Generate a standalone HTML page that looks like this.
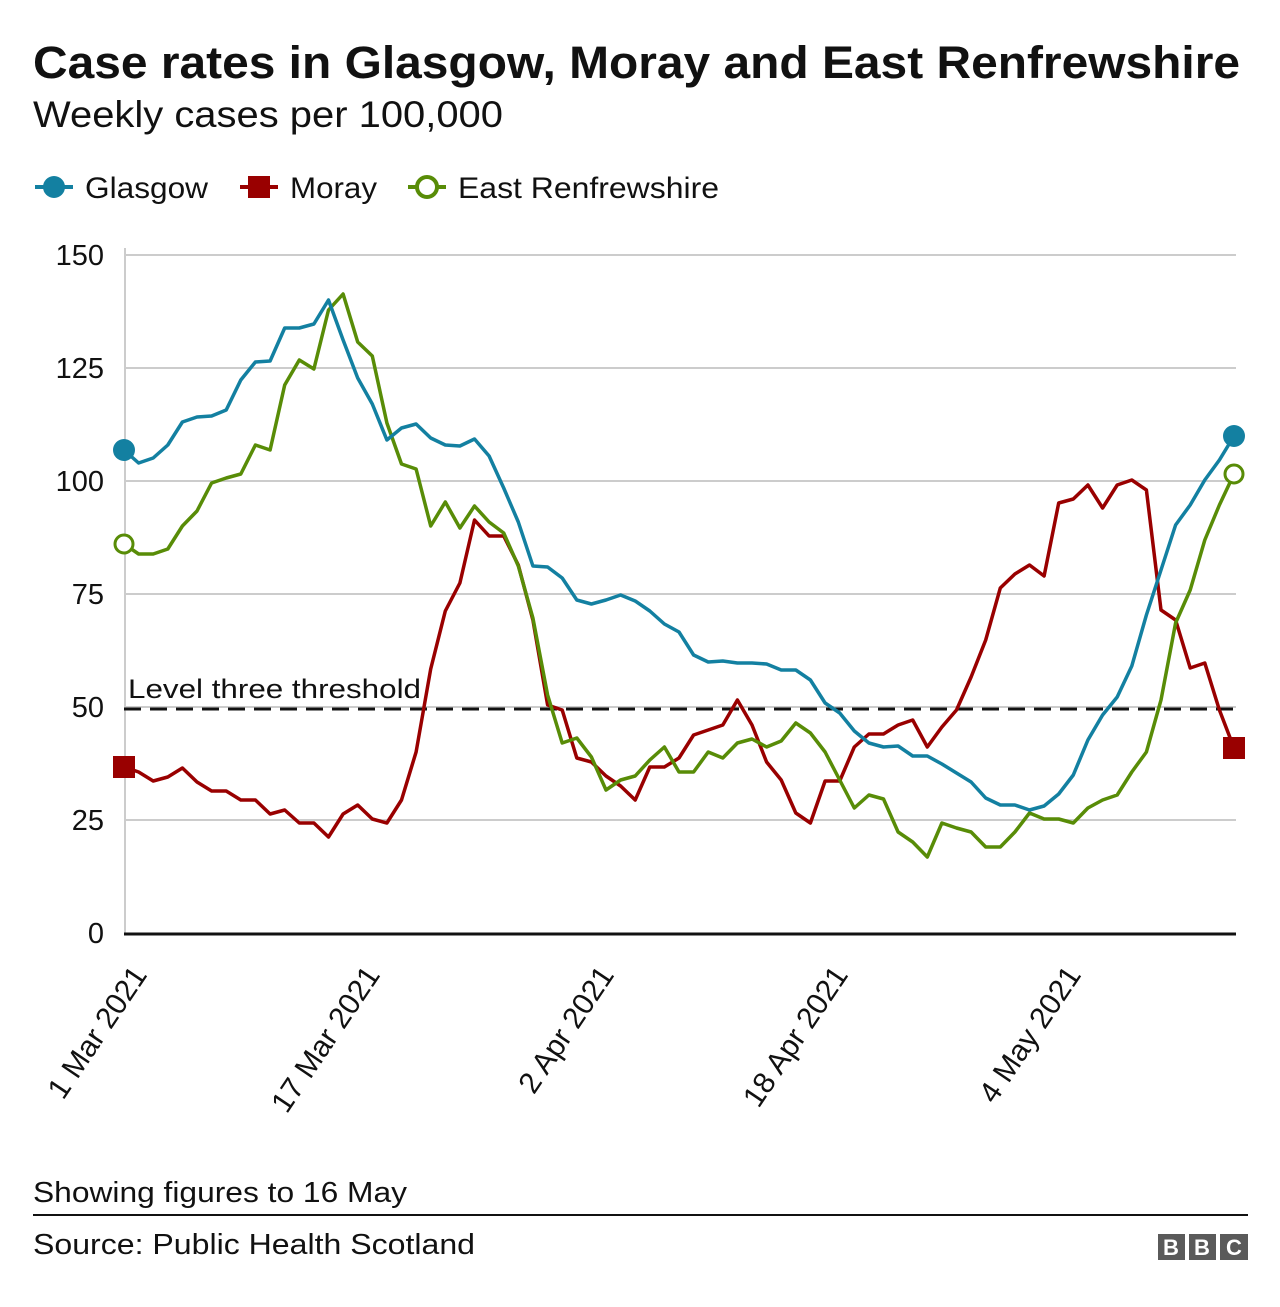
<!DOCTYPE html>
<html><head><meta charset="utf-8"><style>
html,body{margin:0;padding:0;background:#fff;}
body{width:1280px;height:1302px;overflow:hidden;font-family:"Liberation Sans",Arial,sans-serif;}
</style></head><body>
<svg id="s" width="1280" height="1302" xmlns="http://www.w3.org/2000/svg" font-family="Liberation Sans, Arial, sans-serif">
<text x="33" y="78" font-size="45" font-weight="bold" fill="#111" textLength="1207" lengthAdjust="spacingAndGlyphs">Case rates in Glasgow, Moray and East Renfrewshire</text>
<text x="33" y="127" font-size="37" fill="#111" textLength="470" lengthAdjust="spacingAndGlyphs">Weekly cases per 100,000</text>
<line x1="35" y1="187" x2="73" y2="187" stroke="#1380a1" stroke-width="4"/><circle cx="54" cy="187" r="11" fill="#1380a1"/>
<text x="85" y="198" font-size="30" fill="#111" textLength="123" lengthAdjust="spacingAndGlyphs">Glasgow</text>
<line x1="240" y1="187" x2="278" y2="187" stroke="#990000" stroke-width="4"/><rect x="248" y="176" width="22" height="22" fill="#990000"/>
<text x="290" y="198" font-size="30" fill="#111" textLength="87" lengthAdjust="spacingAndGlyphs">Moray</text>
<line x1="408" y1="187" x2="446" y2="187" stroke="#588c07" stroke-width="4"/><circle cx="427" cy="187" r="10" fill="#fff" stroke="#588c07" stroke-width="4"/>
<text x="458" y="198" font-size="30" fill="#111" textLength="261" lengthAdjust="spacingAndGlyphs">East Renfrewshire</text>
<g stroke="#ccc" stroke-width="2">
<line x1="124" y1="255" x2="1236" y2="255"/><line x1="124" y1="368" x2="1236" y2="368"/><line x1="124" y1="481" x2="1236" y2="481"/><line x1="124" y1="594" x2="1236" y2="594"/><line x1="124" y1="707" x2="1236" y2="707"/><line x1="124" y1="820" x2="1236" y2="820"/>
<line x1="125" y1="248" x2="125" y2="933"/>
</g>
<g font-size="29" fill="#111" text-anchor="end">
<text x="104" y="265">150</text><text x="104" y="378">125</text><text x="104" y="491">100</text><text x="104" y="604">75</text><text x="104" y="717">50</text><text x="104" y="830">25</text><text x="104" y="943">0</text>
</g>
<line x1="124" y1="934" x2="1236" y2="934" stroke="#111" stroke-width="3"/>
<line x1="124" y1="709" x2="1236" y2="709" stroke="#111" stroke-width="3" stroke-dasharray="17,9"/>
<text x="128" y="698" font-size="27" fill="#111" textLength="293" lengthAdjust="spacingAndGlyphs">Level three threshold</text>
<g id="lines"></g>
<g font-size="30" fill="#111" text-anchor="end">
<text transform="translate(148,975) rotate(-56)">1 Mar 2021</text>
<text transform="translate(381,975) rotate(-56)">17 Mar 2021</text>
<text transform="translate(615,975) rotate(-56)">2 Apr 2021</text>
<text transform="translate(849,975) rotate(-56)">18 Apr 2021</text>
<text transform="translate(1082,975) rotate(-56)">4 May 2021</text>
</g>
<text x="33" y="1202" font-size="29" fill="#111" textLength="374" lengthAdjust="spacingAndGlyphs">Showing figures to 16 May</text>
<line x1="33" y1="1215" x2="1248" y2="1215" stroke="#111" stroke-width="2"/>
<text x="33" y="1254" font-size="29" fill="#111" textLength="442" lengthAdjust="spacingAndGlyphs">Source: Public Health Scotland</text>
<g fill="#5a5a5a"><rect x="1158" y="1234" width="27" height="26"/><rect x="1189" y="1234" width="27" height="26"/><rect x="1220" y="1234" width="28" height="26"/></g>
<g fill="#fff" font-size="22" font-weight="bold" text-anchor="middle"><text x="1171" y="1255">B</text><text x="1202" y="1255">B</text><text x="1234" y="1255">C</text></g>
</svg>
<script>
var G=[450,463,458,445,422,417,416,410,380,362,361,328,328,324,300,340,378,404,440,428,424,438,445,446,439,456,488,522,566,567,578,600,604,600,595,601,611,624,632,655,662,661,663,663,664,670,670,680,703,713,731,743,747,746,756,756,764,773,782,798,805,805,810,806,794,775,740,715,697,666,615,570,525,505,480,460,436];
var E=[544,554,554,549,526,511,483,478,474,445,450,385,360,369,310,294,342,356,423,464,469,526,502,528,506,522,533,566,618,695,743,738,757,790,780,776,760,747,772,772,752,758,743,739,747,741,723,733,752,780,808,795,799,832,842,857,823,828,832,847,847,832,813,819,819,823,808,800,795,772,752,700,623,590,540,505,474];
var M=[767,772,781,777,768,782,791,791,800,800,814,810,823,823,837,814,805,819,823,800,752,669,611,583,520,536,536,565,620,705,710,758,762,776,786,800,767,767,758,735,730,725,700,725,762,780,813,823,781,781,747,734,734,725,720,747,727,710,677,640,588,574,565,576,503,499,485,508,485,480,490,610,620,668,663,710,748];
function pts(a){return a.map(function(y,i){return (124+i*1110/76).toFixed(1)+","+y}).join(" ");}
var h='';
h+='<polyline points="'+pts(M)+'" fill="none" stroke="#990000" stroke-width="3.5" stroke-linejoin="round"/>';
h+='<polyline points="'+pts(E)+'" fill="none" stroke="#588c07" stroke-width="3.5" stroke-linejoin="round"/>';
h+='<polyline points="'+pts(G)+'" fill="none" stroke="#1380a1" stroke-width="3.5" stroke-linejoin="round"/>';
h+='<circle cx="124" cy="450" r="11" fill="#1380a1"/><circle cx="1234" cy="436" r="11" fill="#1380a1"/>';
h+='<circle cx="124" cy="544" r="9" fill="#fff" stroke="#588c07" stroke-width="3"/><circle cx="1234" cy="474" r="9" fill="#fff" stroke="#588c07" stroke-width="3"/>';
h+='<rect x="113" y="756" width="22" height="22" fill="#990000"/><rect x="1223" y="737" width="22" height="22" fill="#990000"/>';
document.getElementById('lines').innerHTML=h;
</script>
</body></html>
